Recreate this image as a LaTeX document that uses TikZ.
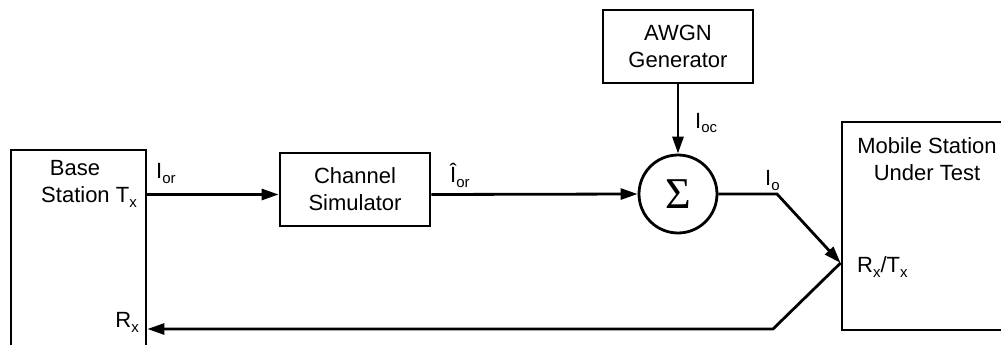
\documentclass[tikz,border=0pt]{standalone}
\usepackage{fontspec}
\setmainfont{Liberation Sans}
\newfontfamily\sigmafont{Liberation Serif}
\usetikzlibrary{arrows.meta}
\newcommand\sbs[1]{\raisebox{-5pt}{\fontsize{15}{15}\selectfont #1}}
\tikzset{
  box/.style={draw, line width=2.8pt, rectangle, inner sep=0pt, align=center,
              font=\fontsize{22}{27}\selectfont},
  lbl/.style={inner sep=0pt, font=\fontsize{22}{27}\selectfont},
  wire/.style={line width=2.8pt},
  arr/.style={line width=2.8pt, -{Triangle[length=17pt,width=11pt]}},
}
\begin{document}
\begin{tikzpicture}[x=1pt,y=-1pt]
\clip (0,0) rectangle (1001,345);
\fill[white] (0,0) rectangle (1001,345);
% blocks
\node[box, minimum width=135pt, minimum height=210pt] (bs) at (78.5,255) {};
\node[lbl, align=center, anchor=base] (bstxt) at (89,202) {Base\hspace*{28pt}\\Station T\sbs{x}};
\node[box, minimum width=150pt, minimum height=73pt] (cs) at (355,189.5) {Channel\\Simulator};
\node[box, minimum width=150pt, minimum height=73pt] (awgn) at (678,46.5) {AWGN\\Generator};
\node[draw, circle, line width=2.8pt, minimum size=78pt, inner sep=0pt,
      font=\sigmafont\fontsize{44}{44}\selectfont] (sum) at (678,194) {Σ};
\node[box, minimum width=173pt, minimum height=208pt] (ms) at (928.5,226) {};
\node[lbl, align=center, anchor=base] (mstxt) at (927,180) {Mobile Station\\Under Test};
% helper coordinates
\coordinate (yt) at (0,194.5);
\coordinate (io) at (777,194);
\coordinate (rt) at (ms.west |- 0,263);
\coordinate (rb) at (773,329);
% connectors
\draw[arr] (bs.east |- yt) -- (cs.west |- yt);
\draw[arr] (cs.east |- yt) -- (sum.west);
\draw[arr] (awgn.south) -- (sum.north);
\draw[arr] (sum.east) -- (io) -- (rt);
\draw[arr] (rt) -- (rb) -- (bs.east |- rb);
% labels
\node[lbl, anchor=base west] (lior) at (156,178) {I\sbs{or}};
\node[lbl, anchor=base west] (lhior) at (450,182) {Î\sbs{or}};
\node[lbl, anchor=base west] (lioc) at (695,128) {I\sbs{oc}};
\node[lbl, anchor=base west] (lio) at (765,185) {I\sbs{o}};
\node[lbl, anchor=base west] (lrt) at (857,272) {R\sbs{x}/T\sbs{x}};
\node[lbl, anchor=base east] (lrx) at (139,327) {R\sbs{x}};
\end{tikzpicture}
\end{document}
